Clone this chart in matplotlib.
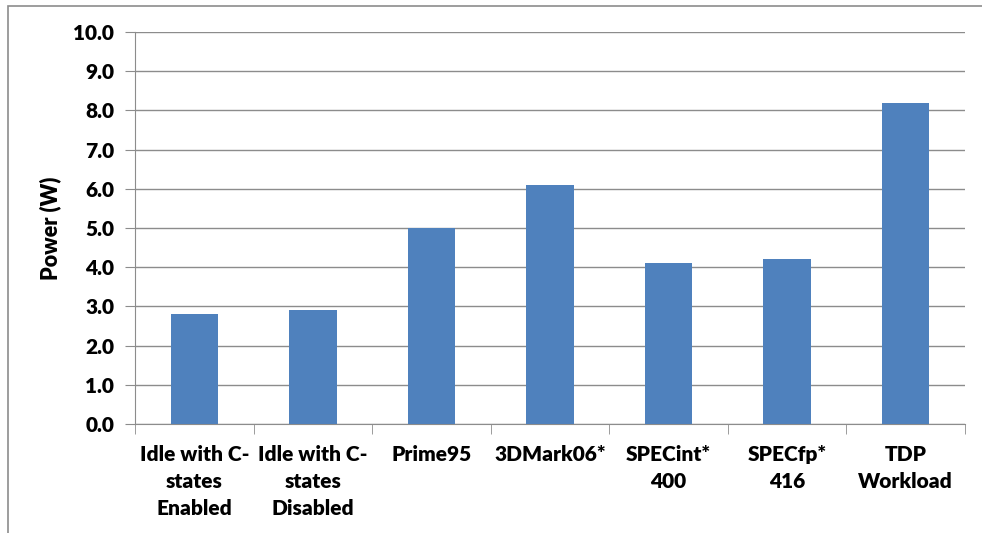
import numpy as np
import matplotlib.pyplot as plt
from matplotlib.patches import Rectangle

categories = [
    "Idle with C-\nstates\nEnabled",
    "Idle with C-\nstates\nDisabled",
    "Prime95",
    "3DMark06*",
    "SPECint*\n400",
    "SPECfp*\n416",
    "TDP\nWorkload",
]
power_w = [2.8, 2.9, 5.0, 6.1, 4.1, 4.2, 8.2]
y_ticks = np.arange(0, 10.5, 1.0)

plt.rcParams["font.family"] = ["Lato", "DejaVu Sans"]
plt.rcParams["font.weight"] = "bold"

fig = plt.figure(figsize=(9.82, 5.33), dpi=100)
ax = fig.add_axes([0.1375, 0.2045, 0.8452, 0.7355])

# outer chart frame
fig.patches.append(Rectangle((8 / 982, -0.1), 1.2, 1 - 6 / 533 + 0.1,
                             transform=fig.transFigure, fill=False,
                             edgecolor="#8c8c8c", linewidth=1.2))

x = np.arange(len(categories))
ax.bar(x, power_w, width=0.4, color="#4F81BD", zorder=3)

ax.set_xlim(-0.5, len(categories) - 0.5)
ax.set_ylim(0, 10)
ax.set_yticks(y_ticks)
ax.set_yticklabels([f"{v:.1f}" for v in y_ticks], fontsize=15, fontweight="heavy")
ax.yaxis.grid(True, color="#8c8c8c", linewidth=1.0, zorder=0)

ax.set_xticks(x)
ax.set_xticklabels(categories, fontsize=15, fontweight="heavy", linespacing=1.5)
ax.tick_params(axis="x", length=0, pad=15)
ax.set_xticks(np.arange(-0.5, len(categories)), minor=True)
ax.tick_params(axis="x", which="minor", length=7, color="#8c8c8c", direction="out")
ax.tick_params(axis="y", length=7, color="#8c8c8c", pad=8)

for side in ["top", "right"]:
    ax.spines[side].set_visible(False)
for side in ["left", "bottom"]:
    ax.spines[side].set_color("#8c8c8c")

ax.set_ylabel("Power (W)", fontsize=15.5, fontweight="heavy", labelpad=9)

fig.savefig("out.png", dpi=100)
